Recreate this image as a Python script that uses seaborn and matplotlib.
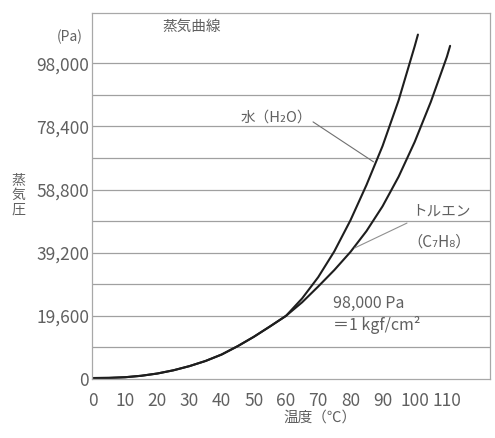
import matplotlib
matplotlib.use("Agg")
import matplotlib.pyplot as plt
import matplotlib.ticker as mticker
import pandas as pd
import seaborn as sns

# values (temperature in C, pressure in Pa)
temps_water = [0, 5, 10, 15, 20, 25, 30, 35, 40, 45, 50, 55, 60,
               65, 70, 75, 80, 85, 90, 95, 100, 101]
pres_water = [300, 350, 550, 1000, 1700, 2700, 4000, 5600, 7600, 10200, 13100, 16300, 19600,
              25000, 31600, 39600, 49200, 60200, 72300, 86500, 103300, 106900]

temps_toluene = [0, 5, 10, 15, 20, 25, 30, 35, 40, 45, 50, 55, 60,
                 65, 70, 75, 80, 85, 90, 95, 100, 105, 110, 111]
pres_toluene = [300, 350, 550, 1000, 1700, 2700, 4000, 5600, 7600, 10200, 13100, 16300, 19600,
                23800, 28700, 33800, 39400, 45900, 53600, 62800, 73600, 86000, 100000, 103400]

x_ticks = [0, 10, 20, 30, 40, 50, 60, 70, 80, 90, 100, 110]
y_ticks = [0, 19600, 39200, 58800, 78400, 98000]
grid_minor = [9800, 29400, 49000, 68600, 88200]

sns.set_theme(style="white")
plt.rcParams['font.family'] = ['Noto Sans CJK JP', 'DejaVu Sans']

GRAY = '#606060'
LINE = '#1e1e1e'

df = pd.concat([
    pd.DataFrame({'temp': temps_water, 'pres': pres_water, 'name': 'water'}),
    pd.DataFrame({'temp': temps_toluene, 'pres': pres_toluene, 'name': 'toluene'}),
])

fig = plt.figure(figsize=(4.95, 4.38), dpi=100)
ax = fig.add_axes([92/495, 59/438, 398/495, 366/438])

# horizontal grid
for v in y_ticks[1:] + grid_minor:
    ax.axhline(v, color='#a0a0a0', lw=0.9, zorder=0)

sns.lineplot(data=df, x='temp', y='pres', hue='name', palette=[LINE, LINE],
             estimator=None, sort=False, lw=1.5, legend=False, ax=ax)

ax.set_xlim(-0.3, 123.4)
ax.set_ylim(0, 113600)
ax.set_xticks(x_ticks)
ax.set_yticks(y_ticks)
ax.yaxis.set_major_formatter(mticker.FuncFormatter(lambda v, p: f'{int(v):,}'))
ax.tick_params(axis='both', length=0, labelsize=12.5, labelcolor=GRAY)
ax.tick_params(axis='y', pad=2)
ax.tick_params(axis='x', pad=9)
ax.set_xlabel('')
ax.set_ylabel('')
for s in ax.spines.values():
    s.set_color('#a8a8a8')
    s.set_linewidth(0.9)

# labels
ax.text(30.8, 109300, '蒸気曲線', ha='center', va='center', fontsize=10.5, color=GRAY)
fig.text(83/495, 1 - 37/438, '(Pa)', ha='right', va='center', fontsize=10, color=GRAY)
fig.text(18/495, 1 - 195/438, '蒸\n気\n圧', ha='center', va='center', fontsize=10,
         color=GRAY, linespacing=1.05)
fig.text(320/495, 1 - 418/438, '温度（℃）', ha='center', va='center', fontsize=10.5, color=GRAY)

# annotations
ax.text(68.1, 81000, '水（H₂O）', ha='right', va='center', fontsize=10.5, color=GRAY)
ax.plot([68.4, 87.2], [79800, 67400], color='#707070', lw=0.8)
ax.text(99.1, 51800, 'トルエン', ha='left', va='center', fontsize=10.5, color=GRAY)
ax.text(97.6, 42500, '（C₇H₈）', ha='left', va='center', fontsize=11, color=GRAY)
ax.plot([97.6, 81.4], [48400, 40700], color='#909090', lw=0.8)
ax.text(74.6, 23600, '98,000 Pa', ha='left', va='center', fontsize=11.5, color=GRAY)
ax.text(74.6, 16800, '＝1 kgf/cm²', ha='left', va='center', fontsize=11.5, color=GRAY)

fig.savefig('out.png', dpi=100)
